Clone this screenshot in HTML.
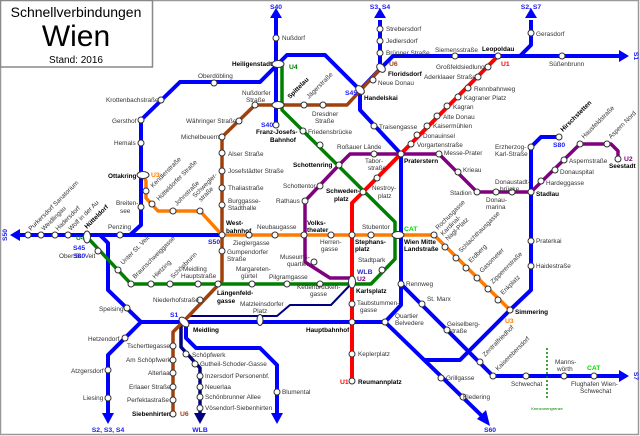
<!DOCTYPE html>
<html><head><meta charset="utf-8"><style>
html,body{margin:0;padding:0;background:#fff;width:640px;height:436px;overflow:hidden}
svg{display:block}
text{font-family:"Liberation Sans",sans-serif;font-size:6.4px;fill:#333}
.b{font-weight:bold;fill:#000}
.s{fill:#1a1aff;font-weight:bold;font-size:6.8px}
circle{fill:#fff;stroke:#333;stroke-width:1}
ellipse{fill:#fff;stroke:#333;stroke-width:1}
.l{fill:none;stroke-linejoin:round;stroke-linecap:butt}
</style></head><body>
<svg width="640" height="436" viewBox="0 0 640 436" xmlns="http://www.w3.org/2000/svg">
<rect x="0.5" y="0.5" width="638" height="434" fill="#fff" stroke="#999" stroke-width="1.5"/>
<rect x="0.5" y="0.5" width="152" height="66.5" fill="#fff" stroke="#888" stroke-width="1.5"/>
<text x="76" y="17" text-anchor="middle" style="font-size:14px;fill:#000">Schnellverbindungen</text>
<text x="76" y="46" text-anchor="middle" style="font-size:30px;fill:#000">Wien</text>
<text x="76" y="63" text-anchor="middle" style="font-size:10px;fill:#000">Stand: 2016</text>

<g class="l" stroke="#0000ff" stroke-width="4">
<path d="M276 16 V125"/>
<path d="M278 64 L287 55 H325 L360 90 V110 L401 154 V305 L385 322"/>
<path d="M360 90 L381 68 L393 56 H620"/>
<path d="M520 56 L531 45 V20"/>
<path d="M380 68 V20"/>
<path d="M278 64 L260 82 H180 L141 120 V225 L130 235"/>
<path d="M18 235 H222"/>
<path d="M100 235 L108 243 V290 L141 322 H385 L482 416"/>
<path d="M141 322 L108 355 V415"/>
<path d="M186 325 V338 L196 348 H260 L277 365 V415"/>
<path d="M425 360 H460 L510 310 L531 290 V147 L541 137 H559"/>
<path d="M401 284 L493 376 H620"/>
</g>
<g fill="#0000ff">
<polygon points="276,8 270,18 282,18"/>
<polygon points="380,8 374,18 386,18"/>
<polygon points="531,8 525,18 537,18"/>
<polygon points="629,56 619,50 619,62"/>
<polygon points="10,235 20,229 20,241"/>
<polygon points="108,424 102,413 114,413"/>
<polygon points="277,424 271,413 283,413"/>
<polygon points="490,426 477,419 486,410"/>
<polygon points="629,376 619,370 619,382"/>
</g>
<g class="l" stroke="#000080" stroke-width="2">
<path d="M352 283 L331 305 H290 L277 316 H188"/>
</g>
<g class="l" stroke="#000080" stroke-width="3.5">
<path d="M181 325 V347 L200 368 V415"/>
</g>
<polygon points="200,424 194,413 206,413" fill="#000080"/>
<path class="l" stroke="#ff0000" stroke-width="4" d="M498 56 L363 192 L352 203 V381"/>
<path class="l" stroke="#a0400b" stroke-width="3.5" d="M381 68 L347 105 H255 L222 137 V281 L183 322 L173 332 V414"/>
<path class="l" stroke="#008000" stroke-width="3.5" d="M282 64 V110 L395 222 V259 L371 284 H131 L87 237"/>
<path class="l" stroke="#800080" stroke-width="3.5" d="M618 159 V151 L611 144 H580 L531 192 H477 L439 154 H350 L339 165 L305 201 V262 L330 278 H352"/>
<path class="l" stroke="#ff7a00" stroke-width="3.5" d="M143 175 L146 181 V198 L158 211 H200 L222 235 H434 L510 310"/>
<line x1="547" y1="348" x2="547" y2="400" stroke="#008000" stroke-width="1.5" stroke-dasharray="2,2"/>

<g>
<circle cx="276" cy="38" r="3"/><circle cx="276" cy="125" r="3"/>
<circle cx="380" cy="29" r="3"/><circle cx="380" cy="41" r="3"/><circle cx="380" cy="53" r="3"/>
<circle cx="455" cy="56" r="3"/><circle cx="498" cy="56" r="3"/><circle cx="562" cy="56" r="3"/><circle cx="531" cy="33" r="3"/>
<circle cx="214" cy="83" r="3"/><circle cx="161" cy="100" r="3"/><circle cx="141" cy="120" r="3"/><circle cx="141" cy="143" r="3"/><circle cx="141" cy="207" r="3"/>
<circle cx="28" cy="235" r="3"/><circle cx="41" cy="235" r="3"/><circle cx="55" cy="235" r="3"/><circle cx="68" cy="235" r="3"/><circle cx="120" cy="235" r="3"/>
<circle cx="374" cy="126" r="3"/><circle cx="401" cy="154" r="3"/><circle cx="401" cy="284" r="3"/><circle cx="385" cy="322" r="3"/>
<circle cx="127" cy="308" r="3"/><circle cx="125" cy="338" r="3"/><circle cx="108" cy="370" r="3"/><circle cx="108" cy="398" r="3"/>
<circle cx="277" cy="392" r="3"/><circle cx="352" cy="322" r="3"/>
<circle cx="441" cy="378" r="3"/><circle cx="463" cy="397" r="3"/>
<circle cx="422" cy="304" r="3"/><circle cx="447" cy="330" r="3"/><circle cx="480" cy="362" r="3"/><circle cx="493" cy="376" r="3"/>
<circle cx="526" cy="376" r="3"/><circle cx="564" cy="376" r="3"/><circle cx="594" cy="376" r="3"/>
<circle cx="510" cy="310" r="3"/><circle cx="531" cy="241" r="3"/><circle cx="531" cy="266" r="3"/><circle cx="531" cy="192" r="3"/><circle cx="531" cy="147" r="3"/><circle cx="559" cy="137" r="3"/>
<circle cx="186" cy="354" r="3"/><circle cx="195" cy="364" r="3"/><circle cx="200" cy="376" r="3"/><circle cx="200" cy="387" r="3"/><circle cx="200" cy="397" r="3"/><circle cx="200" cy="408" r="3"/>
<circle cx="488" cy="67" r="3"/><circle cx="478" cy="77" r="3"/><circle cx="468" cy="88" r="3"/><circle cx="458" cy="97" r="3"/><circle cx="447" cy="106" r="3"/><circle cx="437" cy="116" r="3"/><circle cx="427" cy="126" r="3"/><circle cx="417" cy="135" r="3"/><circle cx="411" cy="144" r="3"/>
<circle cx="377" cy="178" r="3"/><circle cx="363" cy="192" r="3"/><circle cx="352" cy="235" r="3"/><circle cx="352" cy="304" r="3"/><circle cx="352" cy="354" r="3"/><circle cx="352" cy="381" r="3"/>
<circle cx="373" cy="80" r="3"/><circle cx="304" cy="105" r="3"/><circle cx="323" cy="105" r="3"/><circle cx="255" cy="105" r="3"/><circle cx="239" cy="121" r="3"/><circle cx="222" cy="137" r="3"/>
<circle cx="222" cy="153" r="3"/><circle cx="222" cy="171" r="3"/><circle cx="222" cy="188" r="3"/><circle cx="222" cy="205" r="3"/><circle cx="222" cy="235" r="3"/><circle cx="222" cy="251" r="3"/>
<circle cx="218" cy="284" r="3"/><circle cx="200" cy="300" r="3"/>
<circle cx="173" cy="346" r="3"/><circle cx="173" cy="360" r="3"/><circle cx="173" cy="373" r="3"/><circle cx="173" cy="387" r="3"/><circle cx="173" cy="400" r="3"/><circle cx="173" cy="414" r="3"/>
<circle cx="303" cy="131" r="3"/><circle cx="320" cy="145" r="3"/><circle cx="339" cy="165" r="3"/><circle cx="382" cy="270" r="3"/>
<circle cx="320" cy="284" r="3"/><circle cx="287" cy="284" r="3"/><circle cx="252" cy="284" r="3"/><circle cx="198" cy="284" r="3"/><circle cx="170" cy="284" r="3"/><circle cx="151" cy="284" r="3"/><circle cx="131" cy="284" r="3"/><circle cx="118" cy="270" r="3"/><circle cx="98" cy="251" r="3"/>
<circle cx="618" cy="159" r="3"/><circle cx="607" cy="144" r="3"/><circle cx="580" cy="144" r="3"/><circle cx="564" cy="160" r="3"/><circle cx="555" cy="170" r="3"/><circle cx="541" cy="181" r="3"/>
<circle cx="512" cy="192" r="3"/><circle cx="496" cy="192" r="3"/><circle cx="477" cy="192" r="3"/><circle cx="458" cy="172" r="3"/><circle cx="439" cy="154" r="3"/><circle cx="374" cy="154" r="3"/>
<circle cx="320" cy="186" r="3"/><circle cx="305" cy="201" r="3"/><circle cx="304" cy="235" r="3"/><circle cx="314" cy="262" r="3"/>
<circle cx="146" cy="191" r="3"/><circle cx="152" cy="204" r="3"/><circle cx="173" cy="211" r="3"/><circle cx="200" cy="211" r="3"/>
<circle cx="249" cy="235" r="3"/><circle cx="275" cy="235" r="3"/><circle cx="331" cy="235" r="3"/><circle cx="371" cy="235" r="3"/><circle cx="434" cy="235" r="3"/>
<circle cx="445" cy="247" r="3"/><circle cx="456" cy="258" r="3"/><circle cx="466" cy="268" r="3"/><circle cx="477" cy="278" r="3"/><circle cx="488" cy="289" r="3"/><circle cx="498" cy="300" r="3"/>
<ellipse cx="278" cy="64" rx="6" ry="3.5"/><ellipse cx="278" cy="105" rx="6" ry="3.5"/>
<ellipse cx="381" cy="68" rx="3.5" ry="5" transform="rotate(-45 381 68)"/>
<ellipse cx="360" cy="90" rx="3.5" ry="5" transform="rotate(-45 360 90)"/>
<ellipse cx="143" cy="175" rx="6" ry="3.5"/><ellipse cx="87" cy="237" rx="3.5" ry="6"/>
<ellipse cx="398" cy="235" rx="6" ry="3.5"/><ellipse cx="352" cy="282" rx="3.5" ry="6"/>
<ellipse cx="184" cy="322" rx="3.5" ry="6" transform="rotate(-45 184 322)"/><ellipse cx="260" cy="320" rx="3" ry="5.5"/>
</g>

<text class="s" x="276" y="9" text-anchor="middle">S40</text>
<text class="s" x="380" y="9" text-anchor="middle">S3, S4</text>
<text class="s" x="531" y="9" text-anchor="middle">S2, S7</text>
<text class="s" x="634" y="56" transform="rotate(90 634 56)" text-anchor="middle">S1</text>
<text class="s" x="7" y="235" transform="rotate(-90 7 235)" text-anchor="middle">S50</text>
<text class="s" x="634" y="376" transform="rotate(90 634 376)" text-anchor="middle">S7</text>
<text class="s" x="108" y="432" text-anchor="middle">S2, S3, S4</text>
<text class="s" x="200" y="432" text-anchor="middle">WLB</text>
<text class="s" x="490" y="432" text-anchor="middle">S60</text>
<text class="s" x="261" y="127">S40</text>
<text class="s" x="345" y="95">S45</text>
<text class="s" x="73" y="250">S45</text><text class="s" x="73" y="258">S80</text>
<text class="s" x="208" y="244">S50</text>
<text class="s" x="170" y="317">S1</text>
<text class="s" x="553" y="147">S80</text>
<text class="s" x="357" y="274" style="fill:#3030c0">WLB</text>
<text class="s" x="357" y="281" style="fill:#800080">U2</text>
<text class="s" x="289" y="69" style="fill:#008000">U4</text>
<text class="s" x="76" y="240" style="fill:#008000">U4</text>
<text class="s" x="151" y="177" style="fill:#ff7a00">U3</text>
<text class="s" x="505" y="323" style="fill:#ff7a00">U3</text>
<text class="s" x="389" y="66" style="fill:#a0400b">U6</text>
<text class="s" x="180" y="416" style="fill:#a0400b">U6</text>
<text class="s" x="501" y="66" style="fill:#ff0000">U1</text>
<text class="s" x="340" y="384" style="fill:#ff0000">U1</text>
<text class="s" x="624" y="161" style="fill:#800080">U2</text>
<text class="s" x="404" y="231" style="fill:#00dd00">CAT</text>
<text class="s" x="587" y="370" style="fill:#00dd00">CAT</text>
<text x="547" y="410" text-anchor="middle" style="font-size:4px;fill:#008000">Kernzonengrenze</text>

<text x="282" y="40">Nußdorf</text>
<text x="386" y="31">Strebersdorf</text><text x="386" y="43">Jedlersdorf</text><text x="386" y="55">Brünner Straße</text>
<text x="435" y="52">Siemensstraße</text><text class="b" x="482" y="51">Leopoldau</text><text x="536" y="36">Gerasdorf</text><text x="549" y="66">Süßenbrunn</text>
<text class="b" x="232" y="66">Heiligenstadt</text>
<text x="198" y="78">Oberdöbling</text><text x="106" y="102">Krottenbachstraße</text><text x="112" y="123">Gersthof</text><text x="114" y="145">Hemals</text>
<text class="b" x="108" y="178">Ottakring</text><text x="116" y="205">Breiten-</text><text x="120" y="213">see</text>
<text x="108" y="229">Penzing</text><text x="59" y="258">Ober St. Veit</text>
<text class="b" x="388" y="76">Floridsdorf</text><text x="378" y="85">Neue Donau</text><text class="b" x="364" y="100">Handelskai</text>
<text x="379" y="129">Traisengasse</text><text class="b" x="404" y="163">Praterstern</text>
<text x="337" y="149">Roßauer Lände</text><text x="308" y="134">Friedensbrücke</text>
<text x="312" y="116">Dresdner</text><text x="315" y="123">Straße</text>
<text x="242" y="95">Nußdorfer</text><text x="246" y="102">Straße</text>
<text x="186" y="123">Währinger Straße</text><text x="181" y="139">Michelbeuern</text>
<text class="b" x="256" y="134">Franz-Josefs-</text><text class="b" x="270" y="142">Bahnhof</text>
<text x="228" y="156">Alser Straße</text><text x="228" y="173">Josefstädter Straße</text><text x="228" y="190">Thaliastraße</text>
<text x="228" y="203">Burggasse-</text><text x="228" y="210">Stadthalle</text>
<text class="b" x="226" y="225">West-</text><text class="b" x="226" y="233">bahnhof</text>
<text x="257" y="229">Neubaugasse</text><text x="233" y="245">Zieglergasse</text>
<text x="227" y="254">Gumpendorfer</text><text x="227" y="261">Straße</text>
<text x="236" y="271">Margareten-</text><text x="241" y="278">gürtel</text><text x="269" y="279">Pilgramgasse</text>
<text x="183" y="271">Meidling</text><text x="181" y="278">Hauptstraße</text>
<text class="b" x="217" y="295">Längenfeld-</text><text class="b" x="217" y="303">gasse</text>
<text x="153" y="302">Niederhofstraße</text>
<text x="240" y="306">Matzleinsdorfer</text><text x="253" y="313">Platz</text>
<text class="b" x="193" y="332">Meidling</text>
<text x="99" y="311">Speising</text><text x="88" y="341">Hetzendorf</text><text x="71" y="373">Atzgersdorf</text><text x="83" y="400">Liesing</text>
<text x="127" y="348">Tscherttegasse</text><text x="126" y="362">Am Schöpfwerk</text><text x="148" y="375">Alterlaa</text><text x="129" y="389">Erlaaer Straße</text><text x="127" y="402">Perfektastraße</text><text class="b" x="132" y="416">Siebenhirten</text>
<text x="192" y="357">Schöpfwerk</text><text x="200" y="366">Gutheil-Schoder-Gasse</text><text x="205" y="378">Inzersdorf Personenbf.</text><text x="205" y="389">Neuerlaa</text><text x="205" y="399">Schönbrunner Allee</text><text x="205" y="410">Vösendorf-Siebenhirten</text>
<text x="282" y="394">Blumental</text>
<text class="b" x="306" y="332">Hauptbahnhof</text>
<text x="358" y="356">Keplerplatz</text><text class="b" x="358" y="384">Reumannplatz</text>
<text x="357" y="305">Taubstummen-</text><text x="360" y="312">gasse</text>
<text class="b" x="356" y="293">Karlsplatz</text>
<text x="297" y="289">Kettenbrücken-</text><text x="310" y="296">gasse</text>
<text x="358" y="262">Stadtpark</text>
<text class="b" x="355" y="244">Stephans-</text><text class="b" x="355" y="251">platz</text>
<text x="362" y="229">Stubentor</text>
<text x="320" y="244">Herren-</text><text x="321" y="251">gasse</text>
<text class="b" x="307" y="225">Volks-</text><text class="b" x="307" y="232">theater</text>
<text x="280" y="259">Museums-</text><text x="287" y="266">quartier</text>
<text x="276" y="203">Rathaus</text><text x="283" y="188">Schottentor</text>
<text class="b" x="293" y="167">Schottenring</text>
<text class="b" x="326" y="193">Schweden-</text><text class="b" x="334" y="201">platz</text>
<text x="372" y="190">Nestroy-</text><text x="378" y="198">platz</text>
<text x="365" y="163">Tabor-</text><text x="368" y="170">straße</text>
<text class="b" x="404" y="244">Wien Mitte</text><text class="b" x="404" y="251">Landstraße</text>
<text x="406" y="286">Rennweg</text><text x="427" y="301">St. Marx</text>
<text x="447" y="326">Geiselberg-</text><text x="449" y="333">straße</text>
<text x="395" y="318">Quartier</text><text x="395" y="325">Belvedere</text>
<text x="446" y="380">Grillgasse</text><text x="463" y="399">Kledering</text>
<text x="511" y="386">Schwechat</text><text x="555" y="364">Manns-</text><text x="557" y="371">wörth</text>
<text x="571" y="386">Flughafen Wien-</text><text x="580" y="393">Schwechat</text>
<text class="b" x="515" y="314">Simmering</text>
<text x="536" y="243">Praterkai</text><text x="536" y="268">Haidestraße</text>
<text class="b" x="536" y="196">Stadlau</text>
<text x="495" y="149">Erzherzog-</text><text x="495" y="156">Karl-Straße</text>
<text x="495" y="184">Donaustadt-</text><text x="500" y="191">brücke</text>
<text x="486" y="202">Donau-</text><text x="486" y="209">marina</text>
<text x="450" y="195">Stadion</text><text x="463" y="172">Krieau</text><text x="444" y="155">Messe-Prater</text>
<text x="546" y="185">Hardeggasse</text><text x="560" y="174">Donauspital</text><text x="569" y="163">Aspernstraße</text>
<text class="b" x="609" y="168">Seestadt</text>
<text x="436" y="69">Großfeldsiedlung</text><text x="424" y="79">Aderklaaer Straße</text>
<text x="474" y="91">Rennbahnweg</text><text x="464" y="100">Kagraner Platz</text><text x="453" y="109">Kagran</text>
<text x="443" y="119">Alte Donau</text><text x="433" y="128">Kaisermühlen</text><text x="423" y="138">Donauinsel</text><text x="417" y="147">Vorgartenstraße</text>

<g>
<text x="31" y="231" transform="rotate(-45 31 231)">Purkersdorf Sanatorium</text>
<text x="44" y="231" transform="rotate(-45 44 231)">Weidlingau</text>
<text x="58" y="231" transform="rotate(-45 58 231)">Hadersdorf</text>
<text x="71" y="231" transform="rotate(-45 71 231)">Wolf in der Au</text>
<text class="b" x="87" y="229" transform="rotate(-45 87 229)">Hütteldorf</text>
<text x="153" y="188" transform="rotate(-45 153 188)">Kendlerstraße</text>
<text x="159" y="201" transform="rotate(-45 159 201)">Hütteldorfer Straße</text>
<text x="177" y="206" transform="rotate(-45 177 206)">Johnstraße</text>
<text x="195" y="198" transform="rotate(-45 195 198)">Schwegler-</text>
<text x="201" y="202" transform="rotate(-45 201 202)">straße</text>
<text class="b" x="290" y="99" transform="rotate(-45 290 99)">Spittelau</text>
<text x="309" y="99" transform="rotate(-45 309 99)">Jägerstraße</text>
<text x="123" y="265" transform="rotate(-45 123 265)">Unter St. Veit</text>
<text x="135" y="279" transform="rotate(-45 135 279)">Braunschweiggasse</text>
<text x="155" y="279" transform="rotate(-45 155 279)">Hietzing</text>
<text x="173" y="279" transform="rotate(-45 173 279)">Schönbrunn</text>
<text x="438" y="230" transform="rotate(-45 438 230)">Rochusgasse</text>
<text x="443" y="236" transform="rotate(-45 443 236)">Kardinal-</text>
<text x="448" y="241" transform="rotate(-45 448 241)">Nagl-Platz</text>
<text x="461" y="253" transform="rotate(-45 461 253)">Schlachthausgasse</text>
<text x="471" y="263" transform="rotate(-45 471 263)">Erdberg</text>
<text x="482" y="273" transform="rotate(-45 482 273)">Gasometer</text>
<text x="493" y="284" transform="rotate(-45 493 284)">Zippererstraße</text>
<text x="503" y="295" transform="rotate(-45 503 295)">Enkplatz</text>
<text x="485" y="357" transform="rotate(-45 485 357)">Zentralfriedhof</text>
<text x="498" y="371" transform="rotate(-45 498 371)">Kaiserebersdorf</text>
<text class="b" x="563" y="132" transform="rotate(-45 563 132)">Hirschstetten</text>
<text x="584" y="139" transform="rotate(-45 584 139)">Hausfeldstraße</text>
<text x="611" y="139" transform="rotate(-45 611 139)">Aspern Nord</text>
</g>
</svg>
</body></html>
